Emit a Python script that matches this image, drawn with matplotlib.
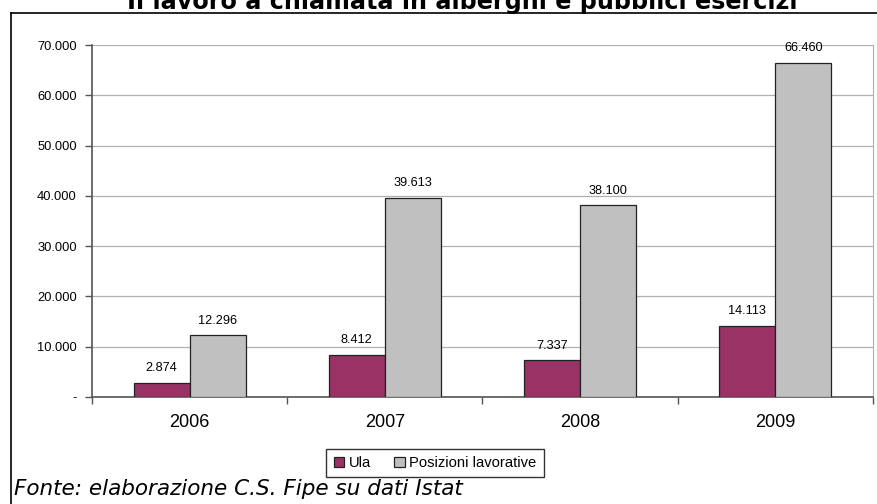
import numpy as np
import matplotlib.pyplot as plt
from matplotlib.lines import Line2D
from matplotlib.ticker import FuncFormatter

years = ['2006', '2007', '2008', '2009']
ula = [2874, 8412, 7337, 14113]
posizioni = [12296, 39613, 38100, 66460]


def fmt_it(v, pos=None):
    if v == 0:
        return '-'
    return '{:,.0f}'.format(v).replace(',', '.')


fig = plt.figure(figsize=(8.78, 5.04), dpi=100)
ax = fig.add_axes([92 / 878, 107 / 504, 781 / 878, 352 / 504])

x = np.arange(len(years))
w = 0.287
b1 = ax.bar(x - w / 2, ula, w, color='#993366', edgecolor='#222222', linewidth=0.9,
            label='Ula', zorder=3)
b2 = ax.bar(x + w / 2, posizioni, w, color='#C0C0C0', edgecolor='#222222', linewidth=0.9,
            label='Posizioni lavorative', zorder=3)

# data labels
for bars, vals in ((b1, ula), (b2, posizioni)):
    for r, v in zip(bars, vals):
        ax.text(r.get_x() + r.get_width() / 2, v + 1700, fmt_it(v),
                ha='center', va='bottom', fontsize=9.2, family='Liberation Sans')

ax.set_xlim(-0.5, 3.5)
ax.set_ylim(0, 70000)
ax.set_yticks(np.arange(0, 70001, 10000))
ax.yaxis.set_major_formatter(FuncFormatter(fmt_it))
ax.grid(axis='y', color='#B0B0B0', linewidth=0.9, zorder=0)

# ticks at category boundaries, labels at centers
ax.set_xticks(np.arange(-0.5, 4, 1))
ax.set_xticklabels([])
ax.set_xticks(x, minor=True)
ax.set_xticklabels(years, minor=True, fontsize=13, family='Liberation Sans')
ax.tick_params(axis='x', which='minor', length=0, pad=12)
ax.tick_params(axis='x', which='major', length=5, width=1, color='#555555')
ax.tick_params(axis='y', length=5, width=1, color='#555555', pad=6)
for lab in ax.get_yticklabels():
    lab.set_family('Liberation Sans')
    lab.set_fontsize(9.3)

for s in ('left', 'bottom'):
    ax.spines[s].set_color('#555555')
    ax.spines[s].set_linewidth(1.2)
ax.spines['top'].set_visible(False)
ax.spines['right'].set_color('#B0B0B0')

leg = ax.legend(loc='center', bbox_to_anchor=(435 / 878, 1 - 463 / 504),
                bbox_transform=fig.transFigure, ncol=2, frameon=True, fancybox=False,
                edgecolor='black', handlelength=0.7, handleheight=0.7,
                handletextpad=0.3, columnspacing=1.6, borderpad=0.5,
                prop={'family': 'Liberation Sans', 'size': 10.6})
leg.get_frame().set_linewidth(1.0)

# outer frame (cut by the image border)
fig.add_artist(Line2D([11 / 878, 11 / 878], [0, 1 - 13 / 504], color='black', lw=1.2))
fig.add_artist(Line2D([11 / 878, 1], [1 - 13 / 504, 1 - 13 / 504], color='black', lw=1.2))

fig.text(462 / 878, 1 - 9 / 504, 'Il lavoro a chiamata in alberghi e pubblici esercizi',
         ha='center', va='baseline', fontsize=17.2, fontweight='bold')
fig.text(14 / 878, 1 - 495 / 504, 'Fonte: elaborazione C.S. Fipe su dati Istat',
         ha='left', va='baseline', fontsize=15.5, style='italic')

fig.savefig('out.png', dpi=100)
